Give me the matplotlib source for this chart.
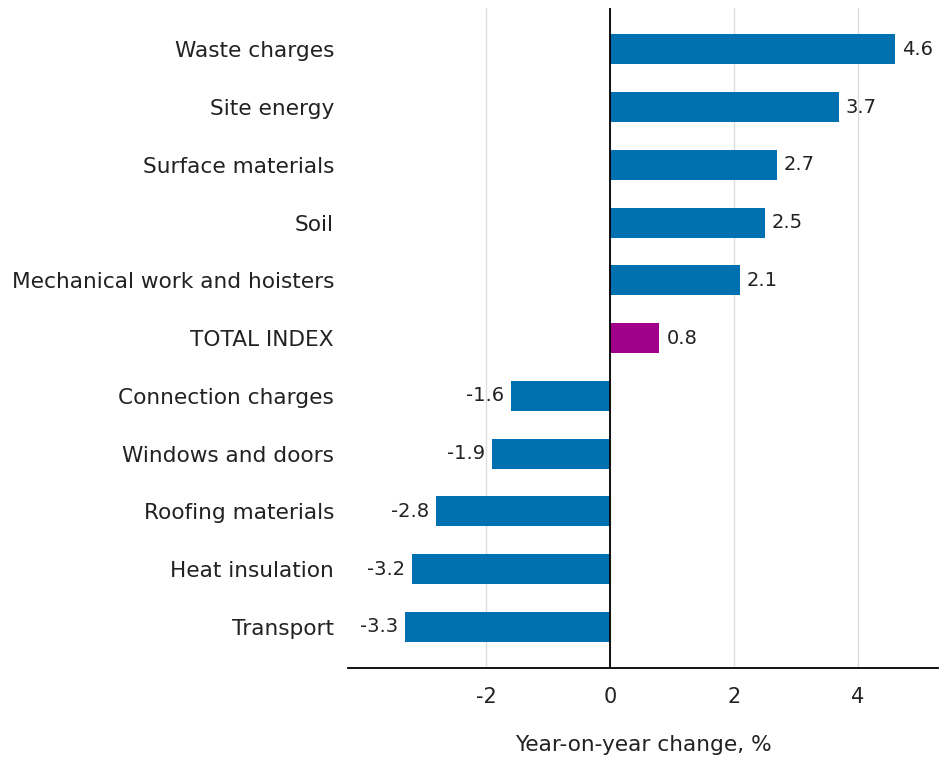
import matplotlib.pyplot as plt

plt.rcParams['font.family'] = ['DejaVu Sans']

# data
categories = ["Waste charges", "Site energy", "Surface materials", "Soil",
              "Mechanical work and hoisters", "TOTAL INDEX", "Connection charges",
              "Windows and doors", "Roofing materials", "Heat insulation", "Transport"]
values = [4.6, 3.7, 2.7, 2.5, 2.1, 0.8, -1.6, -1.9, -2.8, -3.2, -3.3]
x_ticks = [-2, 0, 2, 4]

blue = "#0071B0"
purple = "#A0008A"
colors = [purple if c == "TOTAL INDEX" else blue for c in categories]

fig = plt.figure(figsize=(9.4, 7.58), dpi=100)
ax = fig.add_axes([0.370, 0.119, 0.628, 0.870])

pos = list(range(len(categories)))
ax.barh(pos, values, height=0.52, color=colors, zorder=3)

for p, v in zip(pos, values):
    if v >= 0:
        ax.annotate(f"{v:.1f}", (v, p), xytext=(5, 0), textcoords="offset points",
                    ha="left", va="center", fontsize=14, color="#222222")
    else:
        ax.annotate(f"{v:.1f}", (v, p), xytext=(-5, 0), textcoords="offset points",
                    ha="right", va="center", fontsize=14, color="#222222")

ax.set_yticks(pos)
ax.set_yticklabels(categories, fontsize=15.6, color="#222222")
ax.set_ylim(len(categories) - 1 + 0.71, -0.71)
ax.set_xlim(-4.23, 5.3)
ax.set_xticks(x_ticks)
ax.set_xticklabels([str(t) for t in x_ticks], fontsize=15, color="#222222")
ax.tick_params(axis="y", length=0, pad=10)
ax.tick_params(axis="x", length=0, pad=14)

ax.grid(axis="x", color="#dddddd", linewidth=1, zorder=0)
ax.axvline(0, color="black", linewidth=1.3, zorder=4)
for s in ["top", "right", "left"]:
    ax.spines[s].set_visible(False)
ax.spines["bottom"].set_color("black")
ax.spines["bottom"].set_linewidth(1.3)

ax.set_xlabel("Year-on-year change, %", fontsize=15.6, color="#222222", labelpad=20)

fig.savefig("out.png", dpi=100)
